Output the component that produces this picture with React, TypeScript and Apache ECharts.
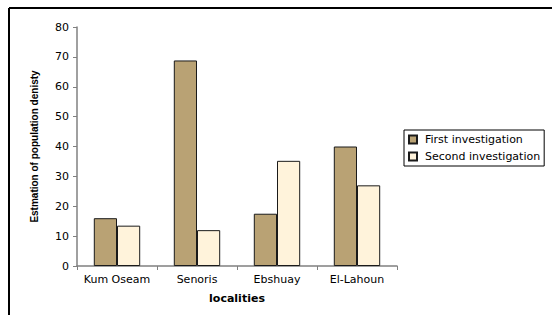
import React, { useEffect, useRef } from "react";
import * as echarts from "echarts";

const categories = ["Kum Oseam", "Senoris", "Ebshuay", "El-Lahoun"];
const firstInvestigation = [16, 68.8, 17.5, 40];
const secondInvestigation = [13.5, 12, 35.2, 27];
const seriesNames = ["First investigation", "Second investigation"];
const yTicks = { min: 0, max: 80, interval: 10 };

export default function App() {
  const ref = useRef<HTMLDivElement>(null);
  useEffect(() => {
    if (!ref.current) return;
    const chart = echarts.init(ref.current, null, { renderer: "svg" });
    const font = "DejaVu Sans";
    chart.setOption({
      animation: false,
      backgroundColor: "#ffffff",
      graphic: [
        {
          type: "line",
          shape: { x1: 9, y1: 8, x2: 552, y2: 8 },
          style: { stroke: "#000", lineWidth: 2 },
          silent: true,
        },
        {
          type: "line",
          shape: { x1: 9, y1: 8, x2: 9, y2: 315 },
          style: { stroke: "#000", lineWidth: 2 },
          silent: true,
        },
      ],
      grid: { left: 77, right: 155, top: 27, bottom: 49 },
      legend: {
        orient: "vertical",
        left: 404,
        top: 130,
        padding: [4, 4, 4, 4],
        itemGap: 6,
        itemWidth: 8,
        itemHeight: 8,
        borderColor: "#000",
        borderWidth: 1,
        icon: "rect",
        textStyle: { fontFamily: font, fontSize: 11, color: "#000", padding: [0, 0, 0, 3] },
        data: seriesNames,
      },
      xAxis: {
        type: "category",
        data: categories,
        name: "localities",
        nameLocation: "middle",
        nameGap: 27,
        nameTextStyle: { fontFamily: font, fontSize: 11, fontWeight: "bold", color: "#000" },
        axisLine: { lineStyle: { color: "#808080", width: 1.5 } },
        axisTick: { show: true, length: 4, lineStyle: { color: "#808080" } },
        axisLabel: { interval: 0, fontFamily: font, fontSize: 11, color: "#000", margin: 8 },
      },
      yAxis: {
        type: "value",
        min: yTicks.min,
        max: yTicks.max,
        interval: yTicks.interval,
        name: "Estmation of population denisty",
        nameLocation: "middle",
        nameGap: 38,
        nameTextStyle: { fontFamily: "Liberation Sans", fontSize: 10, fontWeight: "bold", color: "#000" },
        axisLine: { show: true, lineStyle: { color: "#808080", width: 1.5 } },
        axisTick: { show: true, length: 4, lineStyle: { color: "#808080" } },
        axisLabel: { fontFamily: font, fontSize: 11, color: "#000", margin: 8 },
        splitLine: { show: false },
      },
      series: [
        {
          name: seriesNames[0],
          type: "bar",
          data: firstInvestigation,
          barGap: "0%",
          barCategoryGap: "42%",
          itemStyle: { color: "#B9A274", borderColor: "#1a1a1a", borderWidth: 1 },
        },
        {
          name: seriesNames[1],
          type: "bar",
          data: secondInvestigation,
          barGap: "0%",
          barCategoryGap: "42%",
          itemStyle: { color: "#FFF3DB", borderColor: "#1a1a1a", borderWidth: 1 },
        },
      ],
    });
    return () => chart.dispose();
  }, []);
  return (
    <div
      ref={ref}
      style={{ position: "fixed", left: 0, top: 0, width: 552, height: 315 }}
    />
  );
}
